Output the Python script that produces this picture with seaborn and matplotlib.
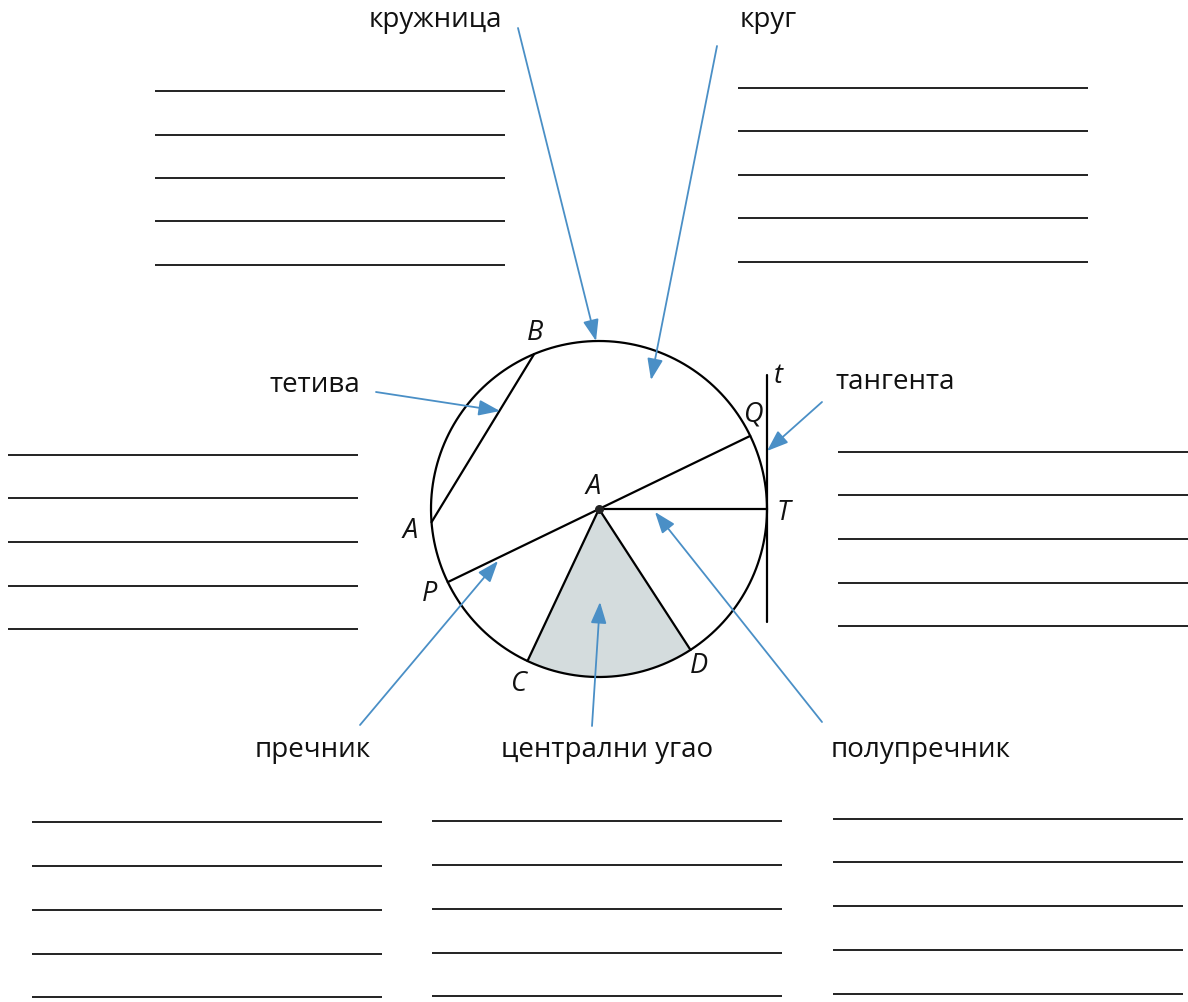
import numpy as np
import pandas as pd
import matplotlib
matplotlib.use("Agg")
import matplotlib.pyplot as plt
from matplotlib.patches import FancyArrowPatch
import seaborn as sns


# ── data (pixel space, y grows downward) ──────────────────────────────────────

center = (599, 510)
radius = 168

# points on the circle, angle in degrees (counter-clockwise from T)
point_names = ["B", "A", "Q", "P", "T", "C", "D"]
point_angles = [112.7, 184.5, 25.8, 205.8, 0.0, 244.8, 303.0]

# point letter labels
letter_text = ["B", "A", "P", "Q", "t", "A", "T", "C", "D"]
letter_x = [535, 410, 430, 753, 778, 593, 783, 518, 699]
letter_y = [333, 531, 594, 414, 376, 487, 513, 684, 666]

# tangent line t at T
tangent_x = 767
tangent_y = [376, 623]

# term labels
term_text = ["кружница", "круг", "тетива", "тангента",
             "пречник", "централни угао", "полупречник"]
term_x = [435, 768, 315, 895, 313, 607, 921]
term_y = [20, 20, 385, 382, 750, 750, 750]

# arrows: tail -> tip
arrow_tail_x = [518, 717, 376, 822, 360, 592, 822]
arrow_tail_y = [29, 47, 393, 403, 726, 727, 723]
arrow_tip_x = [596, 651, 500, 767, 498, 600, 655]
arrow_tip_y = [342, 381, 412, 452, 562, 603, 513]

# answer lines: each group has x-range and y positions
group_x0 = [155, 738, 8, 838, 32, 432, 833]
group_x1 = [505, 1088, 358, 1188, 382, 782, 1183]
group_y = [
    [92, 136, 179, 222, 266],
    [89, 132, 176, 219, 263],
    [456, 499, 543, 587, 630],
    [453, 496, 540, 584, 627],
    [823, 867, 911, 955, 998],
    [822, 866, 910, 954, 997],
    [820, 863, 907, 951, 995],
]

BLUE = "#4a8fc6"
SHADE = "#d4dcdd"

# ── helpers ───────────────────────────────────────────────────────────────────

def on_circle(deg):
    t = np.radians(deg)
    return center[0] + radius * np.cos(t), center[1] - radius * np.sin(t)


pts = {n: on_circle(a) for n, a in zip(point_names, point_angles)}

# ── figure ────────────────────────────────────────────────────────────────────

sns.set_theme(style="white")
plt.rcParams["font.family"] = ["Open Sans", "DejaVu Sans"]

fig = plt.figure(figsize=(11.88, 10.03), dpi=100)
ax = fig.add_axes([0, 0, 1, 1])

# shaded central angle C-A-D
th = np.linspace(point_angles[5], point_angles[6], 80)
sx, sy = on_circle(th)
ax.fill(np.r_[center[0], sx], np.r_[center[1], sy], color=SHADE, lw=0, zorder=1)

# circle
th = np.linspace(0, 360, 400)
cx, cy = on_circle(th)
circ = pd.DataFrame({"x": cx, "y": cy})
sns.lineplot(data=circ, x="x", y="y", sort=False, estimator=None,
             errorbar=None, color="black", lw=1.6, ax=ax, zorder=3)

# segments: chord BA, diameter PQ, radii AC, AD, AT
segs = [("B", "A"), ("P", "Q"), ("C", None), ("D", None), ("T", None)]
for a, b in segs:
    p1 = pts[a]
    p2 = pts[b] if b else center
    ax.plot([p1[0], p2[0]], [p1[1], p2[1]], color="black", lw=1.6, zorder=3)

ax.plot([tangent_x, tangent_x], tangent_y, color="black", lw=1.6, zorder=3)
ax.scatter([center[0]], [center[1]], s=30, color="#222222", zorder=4)

# letters
for t, x, y in zip(letter_text, letter_x, letter_y):
    ax.text(x, y, t, fontsize=19.5, style="italic", ha="center", va="center",
            color="#111111", zorder=5)

# term labels
for t, x, y in zip(term_text, term_x, term_y):
    ax.text(x, y, t, fontsize=20, ha="center", va="center",
            color="#111111", zorder=5)

# arrows
for x0, y0, x1, y1 in zip(arrow_tail_x, arrow_tail_y, arrow_tip_x, arrow_tip_y):
    ax.add_patch(FancyArrowPatch((x0, y0), (x1, y1),
                                 arrowstyle="-|>,head_length=13,head_width=4.8",
                                 mutation_scale=1, color=BLUE, lw=1.3,
                                 shrinkA=0, shrinkB=0, zorder=6))

# answer lines
for x0, x1, ys in zip(group_x0, group_x1, group_y):
    ax.hlines(ys, x0, x1, color="#111111", lw=1.3, zorder=2)

ax.set_xlim(0, 1188)
ax.set_ylim(1003, 0)
ax.set_axis_off()

fig.savefig("out.png", dpi=100, facecolor="white")
